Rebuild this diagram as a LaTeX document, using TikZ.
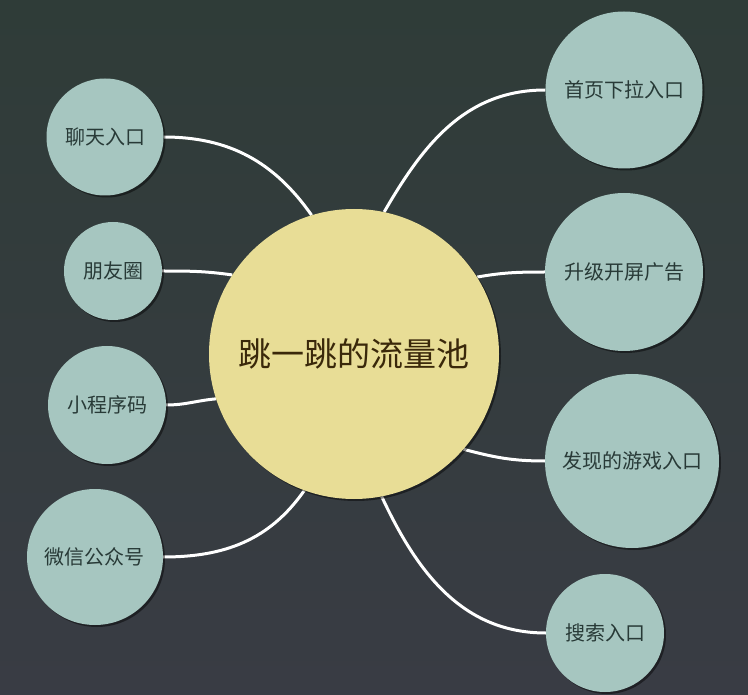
\documentclass[tikz,border=0pt]{standalone}
\usepackage{fontspec}
\setmainfont{Noto Sans CJK SC}
\usetikzlibrary{shadows}
\definecolor{bgtop}{RGB}{47,60,56}
\definecolor{bgbot}{RGB}{57,60,68}
\definecolor{satfill}{RGB}{166,198,192}
\definecolor{satText}{RGB}{40,58,55}
\definecolor{poolfill}{RGB}{232,221,150}
\definecolor{poolText}{RGB}{58,40,10}
\pgfdeclarelayer{bg}
\pgfdeclarelayer{lines}
\pgfsetlayers{bg,lines,main}
\tikzset{
  sat/.style={circle, fill=satfill, text=satText, inner sep=0pt,
    font=\fontsize{20}{24}\selectfont,
    drop shadow={shadow xshift=2pt, shadow yshift=-2pt, opacity=0.45, fill=black}},
  pool/.style={circle, fill=poolfill, text=poolText, inner sep=0pt,
    font=\fontsize{33}{38}\selectfont,
    drop shadow={shadow xshift=2pt, shadow yshift=-2pt, opacity=0.45, fill=black}},
  link/.style={white, line width=3pt}
}
\begin{document}
\begin{tikzpicture}[x=1pt,y=1pt]
\useasboundingbox (0,0) rectangle (748,-695);
\begin{pgfonlayer}{bg}
\shade[top color=bgtop, bottom color=bgbot] (0,0) rectangle (748,-695);
\end{pgfonlayer}

\node[pool, minimum size=290pt] (pool) at (354,-354) {跳一跳的流量池};

\node[sat, minimum size=117pt] (chat)   at (105,-137) {聊天入口};
\node[sat, minimum size=98pt]  (friend) at (113,-271) {朋友圈};
\node[sat, minimum size=118pt] (mini)   at (107,-405) {小程序码};
\node[sat, minimum size=136pt] (wechat) at (95,-557)  {微信公众号};

\node[sat, minimum size=157pt] (home)   at (624,-90)  {首页下拉入口};
\node[sat, minimum size=158pt] (splash) at (624,-272) {升级开屏广告};
\node[sat, minimum size=174pt] (games)  at (632,-461) {发现的游戏入口};
\node[sat, minimum size=118pt] (search) at (605,-633) {搜索入口};

\begin{pgfonlayer}{lines}
\draw[link] (chat.east)   to[out=0, in=125]  (pool.107);
\draw[link] (friend.east) to[out=0, in=172]  (pool.147);
\draw[link] (mini.east)   to[out=0, in=185]  (pool.198);
\draw[link] (wechat.east) to[out=0, in=235]  (pool.250);
\draw[link] (home.west)   to[out=180, in=60] (pool.78);
\draw[link] (splash.west) to[out=180, in=10] (pool.32);
\draw[link] (games.west)  to[out=180, in=-15] (pool.-41);
\draw[link] (search.west) to[out=180, in=-65] (pool.-79);
\end{pgfonlayer}
\end{tikzpicture}
\end{document}
